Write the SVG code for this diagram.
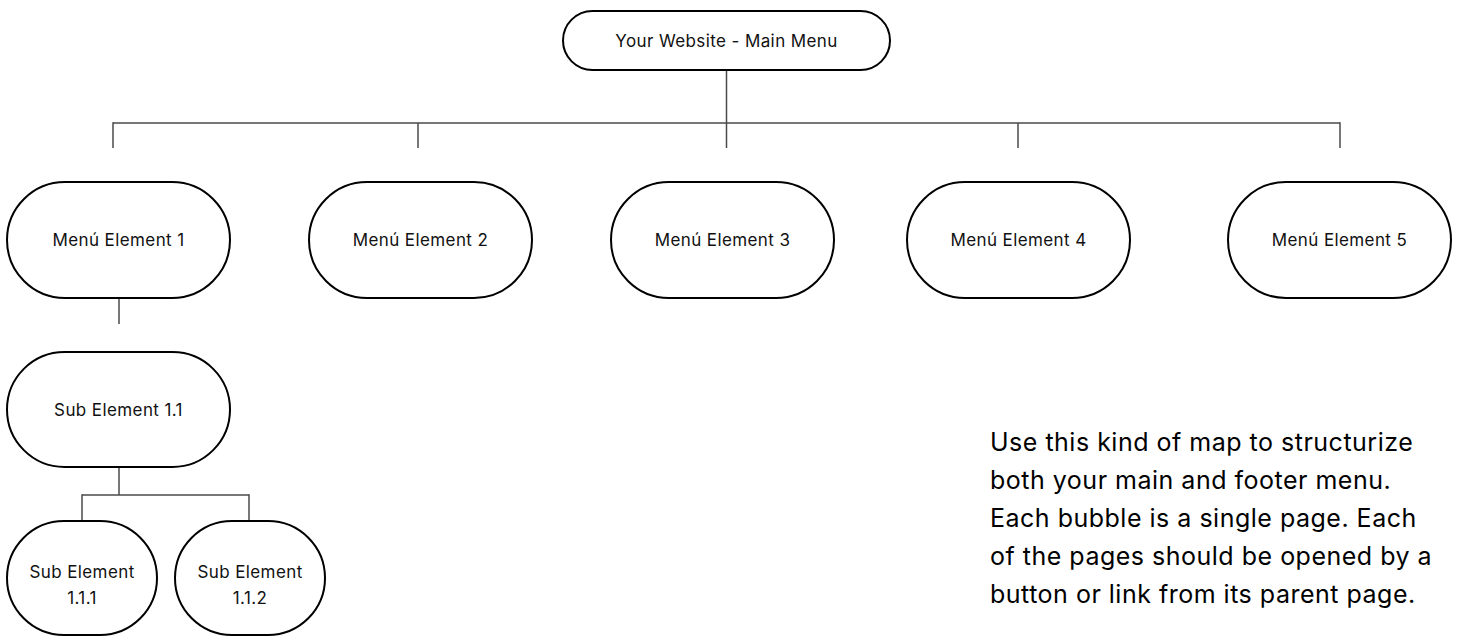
<svg xmlns="http://www.w3.org/2000/svg" width="1461" height="637" viewBox="0 0 1461 637">
<style>
.node rect{fill:#fff;stroke:#000;stroke-width:2}
.lbl{font-family:Inter,"Liberation Sans",sans-serif;font-size:17px;letter-spacing:0.4px;fill:#111;text-anchor:middle;dominant-baseline:central}
.conn line{stroke:#4a4a4a;stroke-width:1.5}
.note{font-family:Inter,"Liberation Sans",sans-serif;font-size:25px;letter-spacing:0.5px;fill:#000}
</style>
<rect width="1461" height="637" fill="#fff"/>
<g id="connectors" class="conn">
<line x1="726.5" y1="70" x2="726.5" y2="148"/>
<line x1="113" y1="123" x2="1340" y2="123"/>
<line x1="113" y1="122.3" x2="113" y2="148"/>
<line x1="418" y1="123" x2="418" y2="148"/>
<line x1="1018" y1="123" x2="1018" y2="148"/>
<line x1="1340" y1="122.3" x2="1340" y2="148"/>
<line x1="119" y1="298" x2="119" y2="324"/>
<line x1="119" y1="467" x2="119" y2="495"/>
<line x1="82" y1="495" x2="249" y2="495"/>
<line x1="82" y1="494.3" x2="82" y2="521"/>
<line x1="249" y1="494.3" x2="249" y2="521"/>
</g>
<g id="main-menu" class="node"><rect x="563" y="11" width="327" height="59" rx="29.5"/><text class="lbl" x="726.5" y="41">Your Website - Main Menu</text></g>
<g id="menu-1" class="node"><rect x="7" y="182" width="223" height="116" rx="58"/><text class="lbl" x="118.5" y="240">Menú Element 1</text></g>
<g id="menu-2" class="node"><rect x="309" y="182" width="223" height="116" rx="58"/><text class="lbl" x="420.5" y="240">Menú Element 2</text></g>
<g id="menu-3" class="node"><rect x="611" y="182" width="223" height="116" rx="58"/><text class="lbl" x="722.5" y="240">Menú Element 3</text></g>
<g id="menu-4" class="node"><rect x="907" y="182" width="223" height="116" rx="58"/><text class="lbl" x="1018.5" y="240">Menú Element 4</text></g>
<g id="menu-5" class="node"><rect x="1228" y="182" width="223" height="116" rx="58"/><text class="lbl" x="1339.5" y="240">Menú Element 5</text></g>
<g id="sub-1-1" class="node"><rect x="7" y="352" width="223" height="115" rx="57.5"/><text class="lbl" x="118.5" y="410">Sub Element 1.1</text></g>
<g id="sub-1-1-1" class="node"><rect x="7" y="521" width="150" height="114" rx="57"/><text class="lbl" x="82" y="572">Sub Element</text><text class="lbl" x="82" y="598">1.1.1</text></g>
<g id="sub-1-1-2" class="node"><rect x="175" y="521" width="150" height="114" rx="57"/><text class="lbl" x="250" y="572">Sub Element</text><text class="lbl" x="250" y="598">1.1.2</text></g>
<text class="note" x="990" y="451">Use this kind of map to structurize</text>
<text class="note" x="990" y="489">both your main and footer menu.</text>
<text class="note" x="990" y="527">Each bubble is a single page. Each</text>
<text class="note" x="990" y="565">of the pages should be opened by a</text>
<text class="note" x="990" y="603">button or link from its parent page.</text>
</svg>
